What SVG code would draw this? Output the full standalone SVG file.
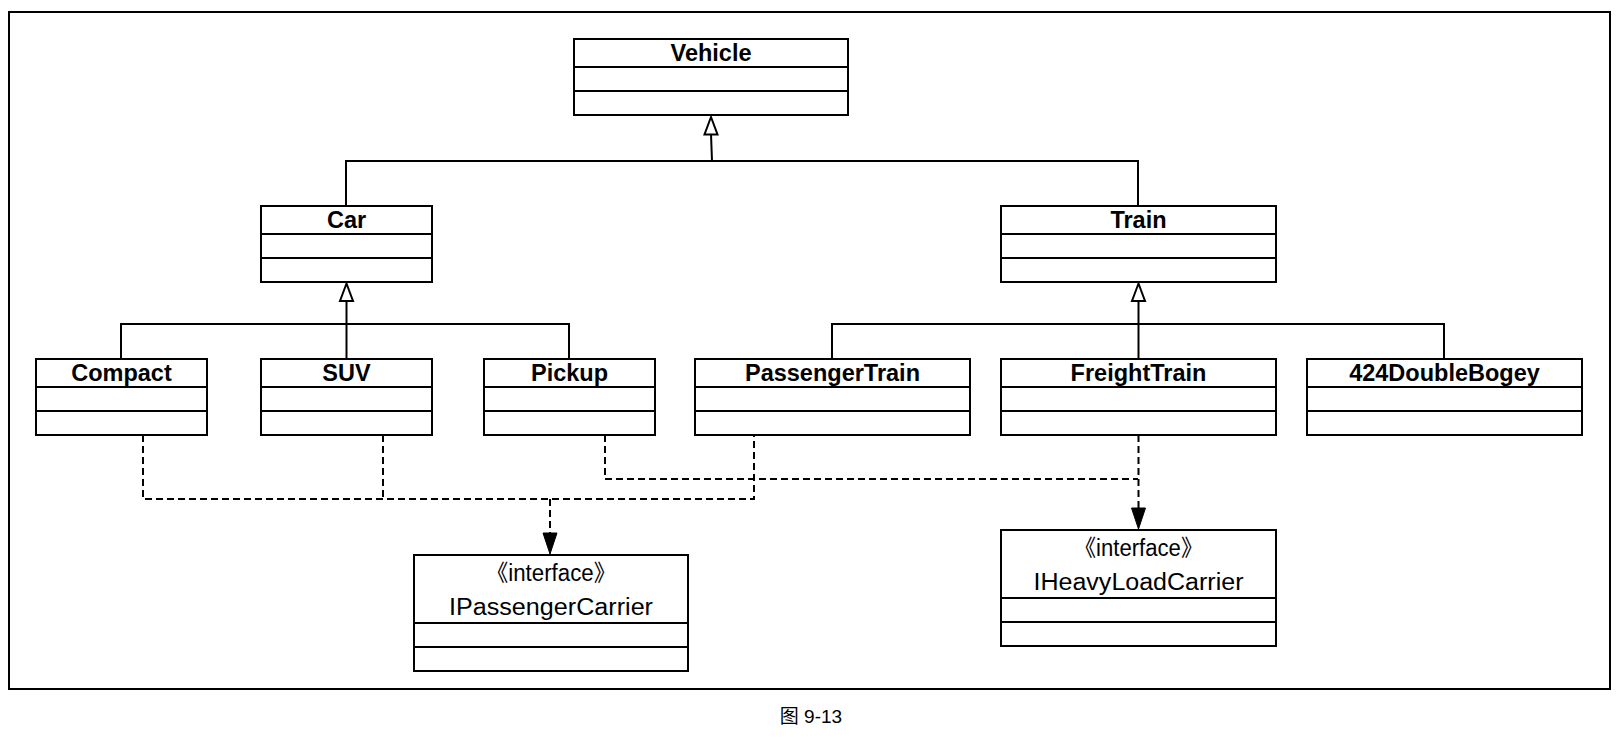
<svg xmlns="http://www.w3.org/2000/svg" width="1620" height="738" viewBox="0 0 1620 738">
<style>
.box{fill:#fff;stroke:#000;stroke-width:2}
.div{stroke:#000;stroke-width:2}
.t{font-family:"Liberation Sans","Noto Sans CJK SC",sans-serif;font-size:23.5px;font-weight:bold;text-anchor:middle;fill:#000}
.it{font-family:"Liberation Sans","Noto Sans CJK SC",sans-serif;font-size:23px;text-anchor:middle;fill:#000}
.cap{font-family:"Liberation Sans","Noto Sans CJK SC",sans-serif;font-size:19px;text-anchor:middle;fill:#000}
.ln{fill:none;stroke:#000;stroke-width:2}
.dash{fill:none;stroke:#000;stroke-width:2;stroke-dasharray:7 4}
.hollow{fill:#fff;stroke:#000;stroke-width:2}
.solid{fill:#000;stroke:#000;stroke-width:1}
</style>
<rect x="9" y="12" width="1601" height="677" fill="none" stroke="#000" stroke-width="2"/>

<g id="connectors">
  <!-- Vehicle generalization -->
  <path class="ln" d="M346,206 V161 H1138 V206"/>
  <path class="ln" d="M712,161 L711,134"/>
  <polygon class="hollow" points="711,117 704.5,134.5 717.5,134.5"/>
  <!-- Car generalization -->
  <path class="ln" d="M121,359 V324 H569 V359"/>
  <path class="ln" d="M346.5,359 V300"/>
  <polygon class="hollow" points="346.5,283.5 340,301 353,301"/>
  <!-- Train generalization -->
  <path class="ln" d="M832,359 V324 H1444 V359"/>
  <path class="ln" d="M1138.5,359 V300"/>
  <polygon class="hollow" points="1138.5,283.5 1132,301 1145,301"/>
  <!-- realizations to IPassengerCarrier -->
  <path class="dash" d="M143,435 V499 H754 V435"/>
  <path class="dash" d="M383,435 V499"/>
  <path class="dash" d="M550,499 V534"/>
  <polygon class="solid" points="550,554 543,533 557,533"/>
  <!-- realizations to IHeavyLoadCarrier -->
  <path class="dash" d="M605,435 V479 H1138"/>
  <path class="dash" d="M1138.5,435 V509"/>
  <polygon class="solid" points="1138.5,529 1131.5,508 1145.5,508"/>
</g>

<g id="Vehicle">
  <rect class="box" x="574" y="39" width="274" height="76"/>
  <line class="div" x1="574" y1="67" x2="848" y2="67"/>
  <line class="div" x1="574" y1="91" x2="848" y2="91"/>
  <text class="t" x="711" y="61">Vehicle</text>
</g>
<g id="Car">
  <rect class="box" x="261" y="206" width="171" height="76"/>
  <line class="div" x1="261" y1="234" x2="432" y2="234"/>
  <line class="div" x1="261" y1="258" x2="432" y2="258"/>
  <text class="t" x="346.5" y="228">Car</text>
</g>
<g id="Train">
  <rect class="box" x="1001" y="206" width="275" height="76"/>
  <line class="div" x1="1001" y1="234" x2="1276" y2="234"/>
  <line class="div" x1="1001" y1="258" x2="1276" y2="258"/>
  <text class="t" x="1138.5" y="228">Train</text>
</g>
<g id="Compact">
  <rect class="box" x="36" y="359" width="171" height="76"/>
  <line class="div" x1="36" y1="387" x2="207" y2="387"/>
  <line class="div" x1="36" y1="411" x2="207" y2="411"/>
  <text class="t" x="121.5" y="381">Compact</text>
</g>
<g id="SUV">
  <rect class="box" x="261" y="359" width="171" height="76"/>
  <line class="div" x1="261" y1="387" x2="432" y2="387"/>
  <line class="div" x1="261" y1="411" x2="432" y2="411"/>
  <text class="t" x="346.5" y="381">SUV</text>
</g>
<g id="Pickup">
  <rect class="box" x="484" y="359" width="171" height="76"/>
  <line class="div" x1="484" y1="387" x2="655" y2="387"/>
  <line class="div" x1="484" y1="411" x2="655" y2="411"/>
  <text class="t" x="569.5" y="381">Pickup</text>
</g>
<g id="PassengerTrain">
  <rect class="box" x="695" y="359" width="275" height="76"/>
  <line class="div" x1="695" y1="387" x2="970" y2="387"/>
  <line class="div" x1="695" y1="411" x2="970" y2="411"/>
  <text class="t" x="832.5" y="381">PassengerTrain</text>
</g>
<g id="FreightTrain">
  <rect class="box" x="1001" y="359" width="275" height="76"/>
  <line class="div" x1="1001" y1="387" x2="1276" y2="387"/>
  <line class="div" x1="1001" y1="411" x2="1276" y2="411"/>
  <text class="t" x="1138.5" y="381">FreightTrain</text>
</g>
<g id="DoubleBogey424">
  <rect class="box" x="1307" y="359" width="275" height="76"/>
  <line class="div" x1="1307" y1="387" x2="1582" y2="387"/>
  <line class="div" x1="1307" y1="411" x2="1582" y2="411"/>
  <text class="t" x="1444.5" y="381">424DoubleBogey</text>
</g>
<g id="IPassengerCarrier">
  <rect class="box" x="414" y="555" width="274" height="116"/>
  <line class="div" x1="414" y1="623" x2="688" y2="623"/>
  <line class="div" x1="414" y1="647" x2="688" y2="647"/>
  <text class="it" x="551" y="581" textLength="130" lengthAdjust="spacingAndGlyphs">《interface》</text>
  <text class="it" x="551" y="615" textLength="204" lengthAdjust="spacingAndGlyphs">IPassengerCarrier</text>
</g>
<g id="IHeavyLoadCarrier">
  <rect class="box" x="1001" y="530" width="275" height="116"/>
  <line class="div" x1="1001" y1="598" x2="1276" y2="598"/>
  <line class="div" x1="1001" y1="622" x2="1276" y2="622"/>
  <text class="it" x="1138.5" y="556" textLength="129" lengthAdjust="spacingAndGlyphs">《interface》</text>
  <text class="it" x="1138.5" y="590" textLength="210" lengthAdjust="spacingAndGlyphs">IHeavyLoadCarrier</text>
</g>
<text class="cap" x="811" y="723">图 9-13</text>
</svg>
